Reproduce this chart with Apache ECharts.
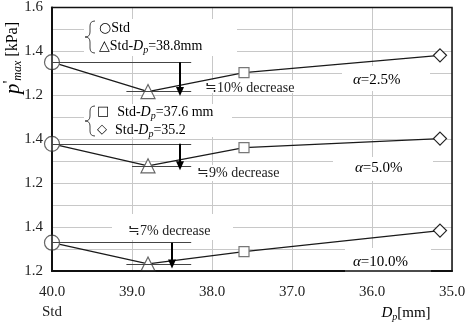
<!DOCTYPE html>
<html><head><meta charset="utf-8">
<script src="https://cdn.jsdelivr.net/npm/echarts@6/dist/echarts.min.js"></script>
<style>html,body{margin:0;padding:0;background:#fff}#c{width:471px;height:322px}</style>
</head><body><div id="c"></div>
<script>
// ---- data ----
const dp = [40.0, 38.8, 37.6, 35.15];            // Dp [mm] (40.0 = Std)
const alpha25  = [1.351, 1.217, 1.303, 1.382];    // p'max, alpha = 2.5%
const alpha50  = [1.379, 1.279, 1.362, 1.403];    // p'max, alpha = 5.0%
const alpha100 = [1.329, 1.232, 1.288, 1.384];    // p'max, alpha = 10.0%
const panelShift = [0.4, 0.8, 1.2];               // stacked-panel offsets on the shared axis
const yTickLabels = ['1.2', '1.4', '1.2', '1.4', '1.2', '1.4', '1.6'];
const decreaseText = ['≒10% decrease', '≒9% decrease', '≒7% decrease'];
const arrowX = [38.4, 38.4, 38.5];
const lowLineStart = [39.07, 39.0, 39.07];
const refLineEnd = 38.26;
const alphaText = ['2.5%', '5.0%', '10.0%'];

const symbols = ['circle', 'triangle', 'rect', 'diamond'];
const symSizes = [15, 14, 10, 13];
const symColors = ['#666', '#666', '#777', '#222'];
const FONT = '"Liberation Serif", "Times New Roman", serif';

function panelSeries(vals, k) {
  const base = panelShift[k];
  const std = +(vals[0] - base).toFixed(4), tri = +(vals[1] - base).toFixed(4);
  const thin = { color: '#444', width: 1, type: 'solid' };
  return {
    type: 'line',
    z: 3,
    showAllSymbol: true,
    animation: false,
    emphasis: { disabled: true },
    lineStyle: { color: '#1a1a1a', width: 1.3 },
    data: dp.map((x, i) => ({
      value: [x, +(vals[i] - base).toFixed(4)],
      symbol: symbols[i], symbolSize: symSizes[i],
      itemStyle: { color: '#fff', borderColor: symColors[i], borderWidth: 1.2 }
    })),
    markLine: {
      silent: true, animation: false, symbol: ['none', 'none'], precision: 4,
      label: { show: false }, emphasis: { disabled: true },
      data: [
        [{ coord: [40, std], lineStyle: thin }, { coord: [refLineEnd, std] }],
        [{ coord: [lowLineStart[k], tri], lineStyle: thin }, { coord: [refLineEnd, tri] }],
        [{ coord: [arrowX[k], std], lineStyle: { color: '#000', width: 2, type: 'solid' }, symbol: 'none' },
         { coord: [arrowX[k], tri], symbol: 'triangle', symbolSize: [8, 9] }]
      ]
    }
  };
}

const whiteBoxes = [
  [84, 19, 153, 37], [84, 104, 148, 33],
  [202, 80, 98, 13], [194, 165, 92, 16], [112, 214, 121, 26],
  [342, 66, 88, 25], [333, 157, 100, 24], [345, 248, 86, 25]
];
const decPos = [[205, 88], [197, 173], [128, 231]];
const alphaPos = [[353, 80], [355, 168], [353, 262]];

const graphic = [];
whiteBoxes.forEach(b => graphic.push({ type: 'rect', z: 1, silent: true,
  shape: { x: b[0], y: b[1], width: b[2], height: b[3] }, style: { fill: '#fff' } }));

const richBase = {
  t: { fontFamily: FONT, fontSize: 14, color: '#222', lineHeight: 18 },
  i: { fontFamily: FONT, fontSize: 14, fontStyle: 'italic', color: '#222', lineHeight: 18 },
  sub: { fontFamily: FONT, fontSize: 10, fontStyle: 'italic', color: '#222', lineHeight: 12, verticalAlign: 'bottom' },
  s: { fontFamily: '"DejaVu Sans"', fontSize: 14, color: '#333', lineHeight: 18 },
  s2: { fontFamily: '"DejaVu Sans"', fontSize: 13, color: '#555', lineHeight: 18, padding: [0, 8, 0, 0] }
};
graphic.push({ type: 'text', z: 5, x: 99, y: 19, silent: true,
  style: { text: '{s|○}{t|Std}\n{s|△}{t|Std-}{i|D}{sub|p}{t|=38.8mm}', rich: richBase, align: 'left', verticalAlign: 'top' } });
graphic.push({ type: 'text', z: 5, x: 97, y: 103, silent: true,
  style: { text: '{s2|□}{t|Std-}{i|D}{sub|p}{t|=37.6 mm}\n{s2|◇}{t|Std-}{i|D}{sub|p}{t|=35.2}', rich: richBase, align: 'left', verticalAlign: 'top' } });

// braces built from curve pieces
function brace(top, tip, bottom) {
  const st = { stroke: '#444', lineWidth: 1, fill: null };
  const q = (x1, y1, cx, cy, x2, y2) => ({ type: 'bezierCurve', z: 5, silent: true,
    shape: { x1, y1, cpx1: cx, cpy1: cy, x2, y2 }, style: st });
  const l = (x1, y1, x2, y2) => ({ type: 'line', z: 5, silent: true, shape: { x1, y1, x2, y2 }, style: st });
  return [
    q(95, top, 90, top, 90, top + 5), l(90, top + 5, 90, tip - 5), q(90, tip - 5, 90, tip, 85, tip),
    q(85, tip, 90, tip, 90, tip + 5), l(90, tip + 5, 90, bottom - 5), q(90, bottom - 5, 90, bottom, 95, bottom)
  ];
}
brace(21, 37, 53).forEach(g => graphic.push(g));
brace(106, 121, 136).forEach(g => graphic.push(g));

decreaseText.forEach((t, k) => graphic.push({ type: 'text', z: 5, silent: true,
  x: decPos[k][0], y: decPos[k][1],
  style: { text: t, font: '14px ' + FONT, fill: '#222', align: 'left', verticalAlign: 'middle' } }));
alphaText.forEach((t, k) => graphic.push({ type: 'text', z: 5, silent: true,
  x: alphaPos[k][0], y: alphaPos[k][1],
  style: { text: '{i|α}{t|=' + t + '}', rich: {
    i: { fontFamily: FONT, fontSize: 15, fontStyle: 'italic', color: '#333' },
    t: { fontFamily: FONT, fontSize: 15, color: '#333' } }, align: 'left', verticalAlign: 'middle' } }));
// axis titles
graphic.push({ type: 'text', z: 5, silent: true, x: 406, y: 313,
  style: { text: '{i|D}{sub|p}{t|[mm]}', align: 'center', verticalAlign: 'middle', rich: {
    i: { fontFamily: FONT, fontSize: 15, fontStyle: 'italic', color: '#222', lineHeight: 18 },
    sub: { fontFamily: FONT, fontSize: 10, fontStyle: 'italic', color: '#222', lineHeight: 12, verticalAlign: 'bottom' },
    t: { fontFamily: FONT, fontSize: 15, color: '#222', lineHeight: 18 } } } });
graphic.push({ type: 'text', z: 5, silent: true, x: 13, y: 58, rotation: Math.PI / 2,
  style: { text: '{p|p}{q|\'}{sub|max}{t| [kPa]}', align: 'center', verticalAlign: 'middle', rich: {
    p: { fontFamily: FONT, fontSize: 21, fontStyle: 'italic', color: '#222', lineHeight: 22 },
    q: { fontFamily: FONT, fontSize: 16, color: '#222', lineHeight: 22, verticalAlign: 'top' },
    sub: { fontFamily: FONT, fontSize: 12, fontStyle: 'italic', color: '#222', lineHeight: 13, verticalAlign: 'bottom' },
    t: { fontFamily: FONT, fontSize: 16, color: '#222', lineHeight: 22 } } } });

const chart = echarts.init(document.getElementById('c'), null, { renderer: 'canvas' });
chart.setOption({
  animation: false,
  backgroundColor: '#fff',
  grid: { left: 52, right: 19, top: 5, bottom: 48, show: true, borderColor: '#111', borderWidth: 1.5, z: 4 },
  xAxis: {
    type: 'value', min: 35, max: 40, interval: 1, inverse: true,
    axisLine: { show: true, lineStyle: { color: '#111', width: 2 } },
    axisTick: { show: false },
    splitLine: { show: true, lineStyle: { color: '#c8c8c8', width: 1 } },
    axisLabel: { margin: 11, color: '#222', fontFamily: FONT, fontSize: 15, lineHeight: 20,
      formatter: v => v === 40 ? '40.0\nStd' : v.toFixed(1) }
  },
  yAxis: {
    type: 'value', min: 0, max: 1.2, interval: 0.1,
    axisLine: { show: true, lineStyle: { color: '#111', width: 2 } },
    axisTick: { show: false },
    splitLine: { show: true, lineStyle: { color: '#c8c8c8', width: 1 } },
    axisLabel: { margin: 9, color: '#222', fontFamily: FONT, fontSize: 15,
      formatter: v => { const n = Math.round(v / 0.1); return n % 2 === 0 ? yTickLabels[n / 2] : ''; } }
  },
  graphic: graphic,
  series: [panelSeries(alpha25, 0), panelSeries(alpha50, 1), panelSeries(alpha100, 2)]
});
</script>
</body></html>
